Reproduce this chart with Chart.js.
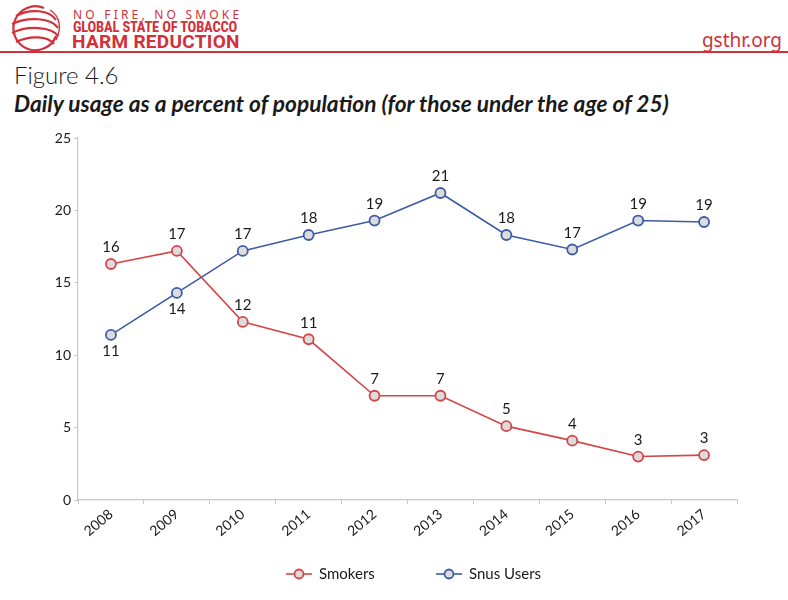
<!DOCTYPE html>
<html>
<head>
<meta charset="utf-8">
<script src="https://cdn.jsdelivr.net/npm/chart.js@4.4.1/dist/chart.umd.min.js"></script>
<style>
  html, body { margin: 0; padding: 0; background: #fff; }
  body { width: 788px; height: 600px; position: relative; overflow: hidden; font-family: Lato, "Noto Sans", sans-serif; }
  .logo { position: absolute; left: 4px; top: 2px; }
  .brand1 { position: absolute; left: 73px; top: 6px; color: #d2303a; font-size: 12px; letter-spacing: 3.2px; font-family: "Noto Sans", sans-serif; }
  .brand2 { position: absolute; left: 73px; top: 19px; color: #d2303a; font-size: 14.5px; font-weight: bold; font-family: "Liberation Sans Narrow", "Roboto Condensed", Roboto, sans-serif; letter-spacing: -0.2px; }
  .brand3 { position: absolute; left: 72px; top: 30px; color: #d2303a; font-size: 19px; font-weight: bold; font-family: "Liberation Sans Narrow", Roboto, sans-serif; letter-spacing: 0.3px; }
  .site { position: absolute; right: 6px; top: 27px; color: #d2303a; font-size: 19px; font-family: "Noto Sans", sans-serif; }
  .rule { position: absolute; left: 0; right: 0; top: 51px; height: 2px; background: #d2303a; }
  .fig { position: absolute; left: 14px; top: 60px; font-size: 24px; font-weight: 300; color: #1a1a1a; }
  .title { position: absolute; left: 14px; top: 90px; font-size: 22.7px; font-weight: bold; font-style: italic; color: #1a1a1a; }
  #wrap { position: absolute; left: 0; top: 120px; width: 788px; height: 480px; }
</style>
</head>
<body>
<svg class="logo" width="62" height="50" viewBox="0 0 62 50">
  <g fill="none" stroke="#d2303a" stroke-width="2.2">
    <path d="M40 6 A22 22 0 1 0 52 34"/>
    <path d="M12 14 C 26 6, 46 8, 52 18"/>
    <path d="M8 22 C 24 14, 48 16, 54 26"/>
    <path d="M8 31 C 24 23, 48 25, 54 34"/>
    <path d="M12 40 C 26 33, 44 34, 50 42"/>
    <path d="M46 8 C 56 14, 58 26, 52 38" stroke-width="1.4"/>
  </g>
</svg>
<div class="brand1">NO FIRE, NO SMOKE</div>
<div class="brand2">GLOBAL STATE OF TOBACCO</div>
<div class="brand3">HARM REDUCTION</div>
<div class="site">gsthr.org</div>
<div class="rule"></div>
<div class="fig">Figure 4.6</div>
<div class="title">Daily usage as a percent of population (for those under the age of 25)</div>
<div id="wrap"><canvas id="myChart" width="788" height="480"></canvas></div>
<script>
const years = ['2008', '2009', '2010', '2011', '2012', '2013', '2014', '2015', '2016', '2017'];
const smokers = [16.3, 17.2, 12.3, 11.1, 7.2, 7.2, 5.1, 4.1, 3.0, 3.1];
const snusUsers = [11.4, 14.3, 17.2, 18.3, 19.3, 21.2, 18.3, 17.3, 19.3, 19.2];
// labels below the point for these (dataset index, point index)
const labelsBelow = { 1: [0, 1] };

const red = '#d64447';
const blue = '#3d5ba9';
const fontFam = 'Lato, "Noto Sans", sans-serif';

const valueLabels = {
  id: 'valueLabels',
  afterDatasetsDraw(chart) {
    const ctx = chart.ctx;
    ctx.save();
    ctx.font = '15px ' + fontFam;
    ctx.fillStyle = '#1a1a1a';
    ctx.textAlign = 'center';
    chart.data.datasets.forEach((ds, i) => {
      const meta = chart.getDatasetMeta(i);
      meta.data.forEach((pt, j) => {
        const below = (labelsBelow[i] || []).includes(j);
        ctx.textBaseline = below ? 'top' : 'bottom';
        ctx.fillText(Math.round(ds.data[j]), pt.x, below ? pt.y + 9 : pt.y - 9);
      });
    });
    ctx.restore();
  }
};

const lineLegend = {
  id: 'lineLegend',
  afterDraw(chart) {
    const ctx = chart.ctx;
    const y = 454;
    const items = [{ x: 286, ds: chart.data.datasets[0] }, { x: 436, ds: chart.data.datasets[1] }];
    ctx.save();
    items.forEach(it => {
      ctx.strokeStyle = it.ds.borderColor;
      ctx.lineWidth = 1.6;
      ctx.beginPath();
      ctx.moveTo(it.x, y);
      ctx.lineTo(it.x + 26, y);
      ctx.stroke();
      ctx.beginPath();
      ctx.arc(it.x + 13, y, 4.5, 0, Math.PI * 2);
      ctx.fillStyle = '#dcdcdc';
      ctx.fill();
      ctx.lineWidth = 1.8;
      ctx.stroke();
      ctx.fillStyle = '#1a1a1a';
      ctx.font = '15px ' + fontFam;
      ctx.textAlign = 'left';
      ctx.textBaseline = 'middle';
      ctx.fillText(it.ds.label, it.x + 33, y);
    });
    ctx.restore();
  }
};

const ctx = document.getElementById('myChart').getContext('2d');
const myChart = new Chart(ctx, {
  type: 'line',
  data: {
    labels: years,
    datasets: [
      {
        label: 'Smokers',
        data: smokers,
        borderColor: red,
        backgroundColor: '#dcdcdc',
        pointBackgroundColor: '#dcdcdc',
        borderWidth: 1.6,
        pointBorderWidth: 1.8,
        pointRadius: 5,
        tension: 0,
      },
      {
        label: 'Snus Users',
        data: snusUsers,
        borderColor: blue,
        backgroundColor: '#dcdcdc',
        pointBackgroundColor: '#dcdcdc',
        borderWidth: 1.6,
        pointBorderWidth: 1.8,
        pointRadius: 5,
        tension: 0,
      },
    ],
  },
  options: {
    responsive: false,
    animation: false,
    layout: { padding: { left: 0, right: 51, top: 18, bottom: 55 } },
    plugins: {
      legend: { display: false },
      tooltip: { enabled: false },
    },
    scales: {
      x: {
        offset: true,
        afterFit: s => { s.height = 45; },
        border: { color: '#c8c8c8', width: 1.2 },
        grid: { offset: true, drawOnChartArea: false, drawTicks: true, tickLength: 4, color: '#c8c8c8' },
        ticks: {
          color: '#1a1a1a',
          font: { size: 14, family: fontFam },
          minRotation: 40,
          maxRotation: 40,
          padding: 2,
        },
      },
      y: {
        min: 0,
        max: 25,
        afterFit: s => { s.width = 78; },
        border: { color: '#c8c8c8', width: 1.2 },
        grid: { drawOnChartArea: false, drawTicks: true, tickLength: 4, color: '#c8c8c8' },
        ticks: {
          stepSize: 5,
          color: '#1a1a1a',
          font: { size: 14, family: fontFam },
          padding: 3,
        },
      },
    },
  },
  plugins: [valueLabels, lineLegend],
});
</script>
</body>
</html>
